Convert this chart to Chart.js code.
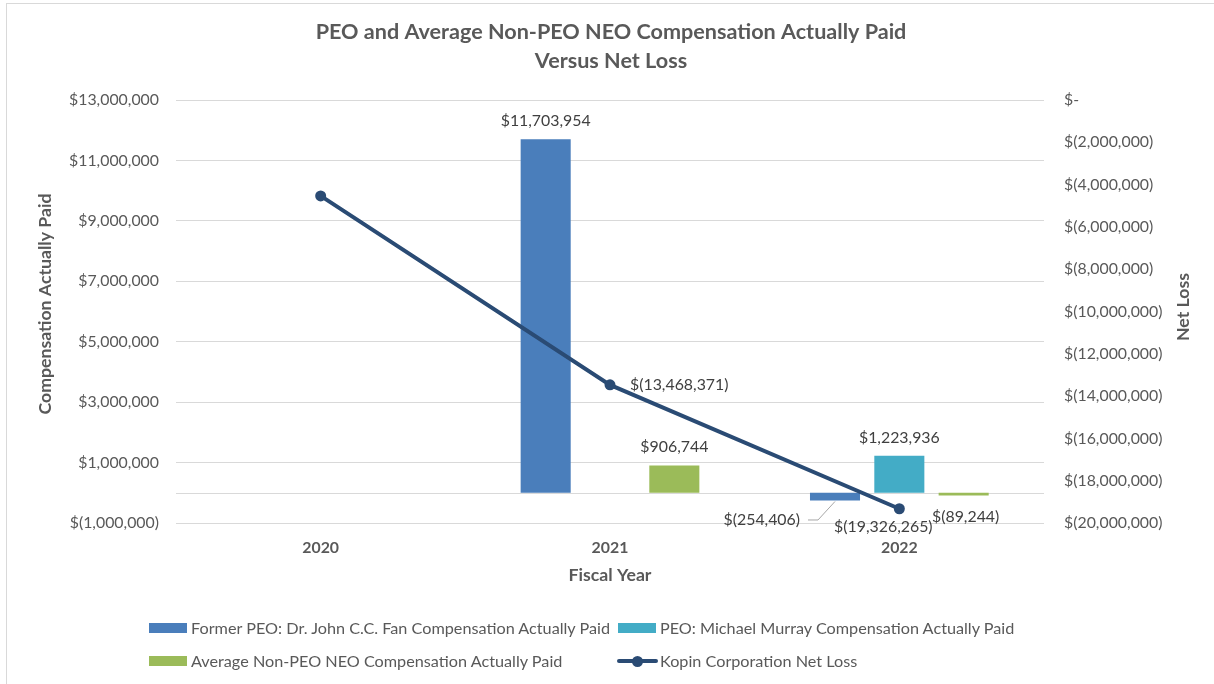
<!DOCTYPE html>
<html>
<head>
<meta charset="utf-8">
<script src="https://cdn.jsdelivr.net/npm/chart.js@4/dist/chart.umd.min.js"></script>
<style>
html,body{margin:0;padding:0;background:#fff;}
#wrap{position:relative;width:1214px;height:684px;overflow:hidden;background:#fff;}
#frame{position:absolute;left:6px;top:3px;width:1230px;height:700px;border:1px solid #d9d9d9;box-sizing:border-box;}
#c{position:absolute;left:0;top:0;}
.sw{position:absolute;height:10px;width:38px;}
.lt{position:absolute;color:#595959;white-space:nowrap;line-height:20px;height:20px;}
</style>
</head>
<body>
<div id="wrap">
  <div id="frame"></div>
  <canvas id="c" width="1214" height="684"></canvas>
  <div id="legend"></div>
</div>
<script>
// ---- data ----
const categories = ['2020', '2021', '2022'];
const formerPeoCap = [null, 11703954, -254406];
const murrayCap = [null, null, 1223936];
const avgNonPeoCap = [null, 906744, -89244];
const netLoss = [-4535000, -13468371, -19326265];
const seriesNames = [
  'Former PEO: Dr. John C.C. Fan Compensation Actually Paid',
  'PEO: Michael Murray Compensation Actually Paid',
  'Average Non-PEO NEO Compensation Actually Paid',
  'Kopin Corporation Net Loss'
];
const leftAxisRange = [-1000000, 13000000, 2000000];
const rightAxisRange = [-20000000, 0, 2000000];
const titleLines = ['PEO and Average Non-PEO NEO Compensation Actually Paid', 'Versus Net Loss'];

// ---- styling ----
const FAM = 'Lato, "Open Sans", sans-serif';
const TXT = '#595959';
const LBL = '#404040';
const COLORS = ['#4A7EBB', '#43ACC6', '#9BBB59', '#2A4B74'];

function fitSize(text, width, weight) {
  const c = document.createElement('canvas').getContext('2d');
  c.font = weight + ' 100px ' + FAM;
  return 100 * width / c.measureText(text).width;
}
const tickSize = fitSize('$13,000,000', 90, 'normal');
const titleSize = fitSize(titleLines[0], 591, 'bold');
const legendSize = fitSize(seriesNames[0], 421, 'normal');
const axTitleSize = fitSize('Fiscal Year', 83, 'bold');

function money(v) {
  if (v === 0) return '$-';
  const s = Math.abs(v).toLocaleString('en-US');
  return v < 0 ? '$(' + s + ')' : '$' + s;
}

// label placement (dx, dy relative to element, align, leader)
const labelPlace = {
  '0-1': {dx: 0, dy: -18, align: 'center'},
  '0-2': {dx: -35, dy: 19, align: 'right', leader: true},
  '1-2': {dx: 0, dy: -18, align: 'center'},
  '2-1': {dx: 0, dy: -19, align: 'center'},
  '2-2': {dx: 2, dy: 21, align: 'center'},
  '3-0': null,
  '3-1': {dx: 20, dy: 0, align: 'left'},
  '3-2': {dx: -16, dy: 18, align: 'center'}
};

const decorPlugin = {
  id: 'decor',
  beforeDatasetsDraw(chart) {
    const c = chart.ctx, ca = chart.chartArea, y = chart.scales.y;
    const y0 = Math.round(y.getPixelForValue(0)) + 0.5;
    c.save();
    c.strokeStyle = '#d9d9d9'; c.lineWidth = 1;
    c.beginPath(); c.moveTo(ca.left, y0); c.lineTo(ca.right, y0); c.stroke();
    c.restore();
  },
  afterDatasetsDraw(chart) {
    const c = chart.ctx;
    c.save();
    c.font = tickSize + 'px ' + FAM;
    c.fillStyle = LBL;
    c.textBaseline = 'middle';
    chart.data.datasets.forEach((ds, di) => {
      const meta = chart.getDatasetMeta(di);
      meta.data.forEach((el, i) => {
        const v = ds.data[i];
        if (v == null) return;
        const p = labelPlace[di + '-' + i];
        if (!p) return;
        const x = el.x + p.dx, yy = el.y + p.dy;
        c.textAlign = p.align;
        c.fillText(money(v), x, yy);
        if (p.leader) {
          c.strokeStyle = '#a6a6a6'; c.lineWidth = 1;
          c.beginPath();
          c.moveTo(x + 8, yy + 0.5); c.lineTo(x + 18, yy + 0.5); c.lineTo(el.x, el.y + 1);
          c.stroke();
        }
      });
    });
    // titles
    const ca = chart.chartArea;
    c.fillStyle = TXT;
    c.textAlign = 'center';
    c.font = 'bold ' + titleSize + 'px ' + FAM;
    c.fillText(titleLines[0], 611, 32);
    c.fillText(titleLines[1], 611, 61);
    c.font = 'bold ' + axTitleSize + 'px ' + FAM;
    c.fillText('Fiscal Year', (ca.left + ca.right) / 2, 575);
    c.save(); c.translate(45, 304); c.rotate(-Math.PI / 2);
    c.fillText('Compensation Actually Paid', 0, 0); c.restore();
    c.save(); c.translate(1183, 307); c.rotate(-Math.PI / 2);
    c.fillText('Net Loss', 0, 0); c.restore();
    c.restore();
  }
};

const barCommon = {type: 'bar', yAxisID: 'y', order: 2, categoryPercentage: 0.667, barPercentage: 0.778};

new Chart(document.getElementById('c'), {
  data: {
    labels: categories,
    datasets: [
      Object.assign({label: seriesNames[0], data: formerPeoCap, backgroundColor: COLORS[0]}, barCommon),
      Object.assign({label: seriesNames[1], data: murrayCap, backgroundColor: COLORS[1]}, barCommon),
      Object.assign({label: seriesNames[2], data: avgNonPeoCap, backgroundColor: COLORS[2]}, barCommon),
      {type: 'line', label: seriesNames[3], data: netLoss, yAxisID: 'y1', order: 1,
       borderColor: COLORS[3], backgroundColor: COLORS[3], borderWidth: 4, tension: 0,
       pointRadius: 5.5, pointBackgroundColor: COLORS[3], pointBorderColor: COLORS[3], pointBorderWidth: 0}
    ]
  },
  options: {
    responsive: false,
    animation: false,
    devicePixelRatio: 1,
    layout: {padding: {top: 100, left: 0, right: 0, bottom: 0}},
    plugins: {legend: {display: false}, title: {display: false}, tooltip: {enabled: false}},
    scales: {
      x: {
        grid: {display: false, drawTicks: false},
        border: {display: false},
        ticks: {color: TXT, font: {family: FAM, size: tickSize, weight: 'bold'}, padding: 25 - tickSize * 0.6},
        afterFit(s) { s.height = 684 - 523; }
      },
      y: {
        position: 'left', min: leftAxisRange[0], max: leftAxisRange[1],
        grid: {color: '#d9d9d9', drawTicks: false},
        border: {display: false},
        ticks: {stepSize: leftAxisRange[2], callback: v => money(v), color: TXT, font: {family: FAM, size: tickSize}, padding: 17},
        afterFit(s) { s.width = 176; }
      },
      y1: {
        position: 'right', min: rightAxisRange[0], max: rightAxisRange[1],
        grid: {display: false, drawTicks: false},
        border: {display: false},
        ticks: {stepSize: rightAxisRange[2], callback: v => money(v), color: TXT, font: {family: FAM, size: tickSize}, padding: 20},
        afterFit(s) { s.width = 1214 - 1044; }
      }
    }
  },
  plugins: [decorPlugin]
});

// ---- legend (HTML) ----
(function () {
  const lg = document.getElementById('legend');
  const pos = [[149, 628], [618, 628], [149, 661], [618, 661]];
  seriesNames.forEach((name, i) => {
    const [x, y] = pos[i];
    if (i < 3) {
      const sw = document.createElement('div');
      sw.className = 'sw';
      sw.style.left = x + 'px'; sw.style.top = (y - 5) + 'px';
      sw.style.background = COLORS[i];
      lg.appendChild(sw);
    } else {
      const ln = document.createElement('div');
      ln.style.cssText = 'position:absolute;left:' + (x - 1) + 'px;top:' + (y - 2) + 'px;width:41px;height:4px;border-radius:2px;background:' + COLORS[3];
      lg.appendChild(ln);
      const dot = document.createElement('div');
      dot.style.cssText = 'position:absolute;left:' + (x + 14) + 'px;top:' + (y - 5.5) + 'px;width:11px;height:11px;border-radius:50%;background:' + COLORS[3];
      lg.appendChild(dot);
    }
    const t = document.createElement('div');
    t.className = 'lt';
    t.textContent = name;
    t.style.fontFamily = FAM;
    t.style.fontSize = legendSize + 'px';
    t.style.left = (x + 42) + 'px';
    t.style.top = (y - 10) + 'px';
    lg.appendChild(t);
  });
})();
</script>
</body>
</html>
